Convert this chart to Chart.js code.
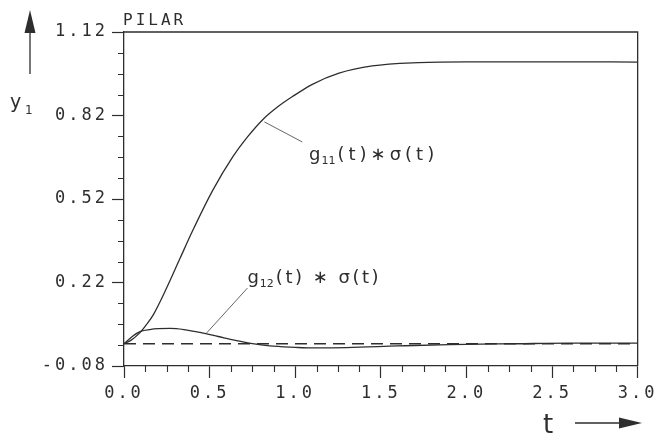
<!DOCTYPE html>
<html lang="en">
<head>
<meta charset="utf-8">
<title>PILAR step response</title>
<script src="https://cdn.jsdelivr.net/npm/chart.js@4.4.1/dist/chart.umd.min.js"></script>
<style>
	html, body { margin: 0; padding: 0; background: #fff; }
	#c { display: block; }
</style>
</head>
<body>
<canvas id="c" width="658" height="433"></canvas>
<script>
// axis ticks
var xTicks = [0, 0.5, 1.0, 1.5, 2.0, 2.5, 3.0]
var yTicks = [-0.08, 0.22, 0.52, 0.82, 1.12]

// g11(t) * sigma(t)
var g11T = [0, 0.04, 0.093, 0.13, 0.17, 0.248, 0.326, 0.40, 0.519, 0.636, 0.72, 0.81, 0.90, 0.984, 1.1, 1.256, 1.45, 1.72, 2.0, 2.5, 3.0]
var g11Y = [0, 0.012, 0.04, 0.068, 0.103, 0.199, 0.305, 0.405, 0.552, 0.672, 0.742, 0.805, 0.852, 0.888, 0.932, 0.972, 0.998, 1.010, 1.013, 1.013, 1.012]

// g12(t) * sigma(t)
var g12T = [0, 0.05, 0.1, 0.15, 0.2, 0.27, 0.35, 0.45, 0.55, 0.65, 0.75, 0.85, 1.0, 1.1, 1.3, 1.6, 1.9, 2.3, 2.6, 3.0]
var g12Y = [0, 0.027, 0.045, 0.051, 0.054, 0.055, 0.051, 0.04, 0.026, 0.012, 0.0, -0.008, -0.013, -0.015, -0.014, -0.008, -0.003, 0.0, 0.002, 0.002]

// dashed zero reference
var zeroT = [0, 3.0]
var zeroY = [0, 0]

var ink = '#2e2e2e'
var monoFont = '"DejaVu Sans Mono", monospace'
var sansFont = '"DejaVu Sans", sans-serif'

function pts(xs, ys) {
	return xs.map(function (x, i) { return { x: x, y: ys[i] } })
}

var minorTicks = {
	id: 'minorTicks',
	afterDraw: function (chart) {
		var ctx = chart.ctx
		var xs = chart.scales.x, ys = chart.scales.y
		var a = chart.chartArea
		ctx.save()
		ctx.strokeStyle = ink
		ctx.lineWidth = 1.1
		ctx.beginPath()
		for (var i = 0; i < xTicks.length - 1; i++) {
			for (var k = 1; k < 4; k++) {
				var px = Math.round(xs.getPixelForValue(xTicks[i] + (xTicks[i + 1] - xTicks[i]) * k / 4)) + 0.5
				ctx.moveTo(px, a.bottom)
				ctx.lineTo(px, a.bottom + 6)
			}
		}
		for (var j = 0; j < yTicks.length - 1; j++) {
			for (var m = 1; m < 4; m++) {
				var py = Math.round(ys.getPixelForValue(yTicks[j] + (yTicks[j + 1] - yTicks[j]) * m / 4)) + 0.5
				ctx.moveTo(a.left - 6, py)
				ctx.lineTo(a.left, py)
			}
		}
		ctx.stroke()
		// top and right frame
		ctx.lineWidth = 1.3
		ctx.beginPath()
		ctx.moveTo(a.left, a.top)
		ctx.lineTo(a.right, a.top)
		ctx.lineTo(a.right, a.bottom)
		ctx.stroke()
		ctx.restore()
	}
}

function subLabel(ctx, x, y, main, sub, rest, spacing) {
	ctx.font = '18px ' + sansFont
	ctx.letterSpacing = '1px'
	ctx.fillText(main, x, y)
	x += ctx.measureText(main).width
	ctx.font = '11px ' + sansFont
	ctx.letterSpacing = '0px'
	ctx.fillText(sub, x, y + 4)
	x += ctx.measureText(sub).width + 2
	ctx.font = '18px ' + sansFont
	ctx.letterSpacing = spacing + 'px'
	ctx.fillText(rest, x, y)
}

var annotations = {
	id: 'annotations',
	beforeDraw: function (chart) {
		chart.ctx.letterSpacing = '3px'
	},
	afterDraw: function (chart) {
		var ctx = chart.ctx
		var xs = chart.scales.x, ys = chart.scales.y
		var a = chart.chartArea
		ctx.save()
		ctx.fillStyle = ink
		ctx.strokeStyle = ink
		ctx.textBaseline = 'alphabetic'
		ctx.textAlign = 'left'

		// title
		ctx.font = '16px ' + monoFont
		ctx.letterSpacing = '3px'
		ctx.fillText('PILAR', a.left - 1, a.top - 7)

		// y axis label and arrow
		ctx.lineWidth = 1.3
		ctx.beginPath()
		ctx.moveTo(30, 74)
		ctx.lineTo(30, 30)
		ctx.stroke()
		ctx.beginPath()
		ctx.moveTo(24.5, 33)
		ctx.lineTo(35.5, 33)
		ctx.lineTo(30, 10)
		ctx.closePath()
		ctx.fill()
		ctx.font = '19px ' + sansFont
		ctx.letterSpacing = '0px'
		ctx.fillText('y', 10, 108)
		ctx.font = '12px ' + sansFont
		ctx.fillText('1', 25, 114)

		// t label and arrow
		ctx.font = '26px ' + sansFont
		ctx.fillText('t', 543, 433)
		ctx.beginPath()
		ctx.moveTo(575, 423)
		ctx.lineTo(622, 423)
		ctx.stroke()
		ctx.beginPath()
		ctx.moveTo(619, 417.5)
		ctx.lineTo(619, 428.5)
		ctx.lineTo(642, 423)
		ctx.closePath()
		ctx.fill()

		// curve labels with leader lines
		ctx.lineWidth = 0.9
		ctx.strokeStyle = '#555'
		ctx.beginPath()
		ctx.moveTo(xs.getPixelForValue(0.82), ys.getPixelForValue(0.797))
		ctx.lineTo(xs.getPixelForValue(1.041), ys.getPixelForValue(0.725))
		ctx.moveTo(xs.getPixelForValue(0.721), ys.getPixelForValue(0.200))
		ctx.lineTo(xs.getPixelForValue(0.483), ys.getPixelForValue(0.039))
		ctx.stroke()
		subLabel(ctx, xs.getPixelForValue(1.081), ys.getPixelForValue(0.660), 'g', '11', '(t)\u2217\u03c3(t)', 4)
		subLabel(ctx, xs.getPixelForValue(0.721), ys.getPixelForValue(0.218), 'g', '12', '(t) \u2217 \u03c3(t)', 2.5)
		ctx.restore()
	}
}

new Chart('c', {
	type: 'line',
	data: {
		datasets: [
			{ label: 'g11(t)*σ(t)', data: pts(g11T, g11Y), borderColor: ink, borderWidth: 1.3, pointRadius: 0, cubicInterpolationMode: 'monotone' },
			{ label: 'g12(t)*σ(t)', data: pts(g12T, g12Y), borderColor: ink, borderWidth: 1.3, pointRadius: 0, cubicInterpolationMode: 'monotone' },
			{ label: 'zero', data: pts(zeroT, zeroY), borderColor: ink, borderWidth: 1.3, pointRadius: 0, borderDash: [12, 7] }
		]
	},
	options: {
		responsive: false,
		animation: false,
		layout: { padding: { top: 32, right: 18, bottom: 0, left: 0 } },
		plugins: {
			legend: { display: false },
			tooltip: { enabled: false }
		},
		scales: {
			x: {
				type: 'linear',
				min: 0,
				max: 3,
				afterFit: function (s) { s.height = 67 },
				afterBuildTicks: function (s) { s.ticks = xTicks.map(function (v) { return { value: v } }) },
				ticks: {
					callback: function (v) { return v.toFixed(1) },
					font: { family: monoFont, size: 17 },
					color: ink,
					padding: 5,
					maxRotation: 0
				},
				grid: { drawOnChartArea: false, tickLength: 12, color: ink, tickWidth: 1.2 },
				border: { color: ink, width: 1.3 }
			},
			y: {
				min: -0.08,
				max: 1.12,
				afterFit: function (s) { s.width = 124 },
				afterBuildTicks: function (s) { s.ticks = yTicks.map(function (v) { return { value: v } }) },
				ticks: {
					callback: function (v) { return v.toFixed(2) },
					font: { family: monoFont, size: 17 },
					color: ink,
					padding: 4
				},
				grid: { drawOnChartArea: false, tickLength: 12, color: ink, tickWidth: 1.2 },
				border: { color: ink, width: 1.3 }
			}
		}
	},
	plugins: [minorTicks, annotations]
})
</script>
</body>
</html>
